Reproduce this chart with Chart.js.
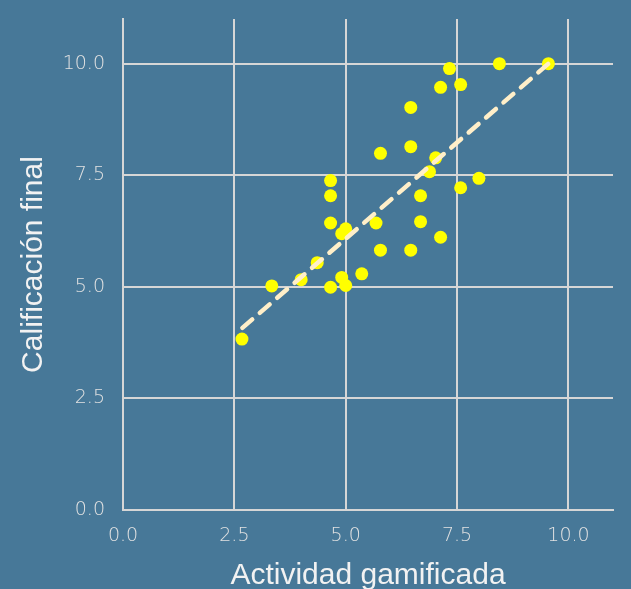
<!DOCTYPE html>
<html>
<head>
<meta charset="utf-8">
<script src="https://cdn.jsdelivr.net/npm/chart.js@4"></script>
<style>
  html, body { margin: 0; padding: 0; background: #477898; overflow: hidden; }
  canvas { display: block; }
</style>
</head>
<body>
<canvas id="c" width="631" height="589" style="width:631px;height:589px"></canvas>
<script>
const activityScores = [2.67, 3.34, 4.0, 4.36, 4.66, 4.66, 4.66, 4.66, 4.91, 5.0, 4.91, 5.0, 5.36, 5.68, 5.78, 5.78, 6.46, 6.46, 6.46, 6.68, 6.68, 6.88, 7.02, 7.13, 7.13, 7.33, 7.58, 7.58, 7.99, 8.45, 9.55];
const finalGrades    = [3.83, 5.02, 5.16, 5.54, 7.38, 7.04, 6.43, 4.99, 5.21, 5.03, 6.19, 6.30, 5.29, 6.43, 7.99, 5.82, 9.02, 8.14, 5.82, 7.04, 6.46, 7.58, 7.89, 6.11, 9.47, 9.89, 9.53, 7.22, 7.43, 10.0, 10.0];
const trendX = [2.68, 9.55];
const trendY = [4.08, 10.0];
const tickValues = [0, 2.5, 5, 7.5, 10];
const xTitle = "Actividad gamificada";
const yTitle = "Calificación final";

const gridColor = "#d6d6d6";
const tickColor = "#e2e2e2";
const titleColor = "#f2f2f2";

new Chart(document.getElementById('c'), {
  type: 'scatter',
  data: {
    datasets: [
      {
        type: 'line',
        data: trendX.map((x, i) => ({ x, y: trendY[i] })),
        borderColor: '#ffefc9',
        borderWidth: 4.5,
        borderDash: [13, 10],
        borderCapStyle: 'round',
        pointRadius: 0,
        fill: false,
        order: 0
      },
      {
        data: activityScores.map((x, i) => ({ x, y: finalGrades[i] })),
        backgroundColor: '#ffff00',
        borderColor: '#ffff00',
        borderWidth: 0,
        pointRadius: 6.5,
        order: 1
      }
    ]
  },
  options: {
    responsive: false,
    animation: false,
    devicePixelRatio: 1,
    layout: { padding: { top: 19, right: 18, left: 0, bottom: 0 } },
    plugins: { legend: { display: false }, tooltip: { enabled: false } },
    scales: {
      x: {
        type: 'linear', min: 0, max: 11,
        afterBuildTicks: s => { s.ticks = tickValues.map(v => ({ value: v })); },
        afterFit: s => { s.height = 79; s.paddingLeft = 0; s.paddingRight = 0; },
        grid: { color: gridColor, lineWidth: 2, drawTicks: false },
        border: { color: gridColor, width: 2 },
        ticks: {
          color: tickColor, padding: 15,
          font: { family: 'DejaVu Sans', size: 19, weight: 200 },
          callback: v => Number(v).toFixed(1)
        },
        title: { display: true, text: xTitle, color: titleColor, padding: { top: 0, bottom: -5 },
          font: { family: 'Liberation Sans', size: 30 } }
      },
      y: {
        type: 'linear', min: 0, max: 11,
        afterBuildTicks: s => { s.ticks = tickValues.map(v => ({ value: v })); },
        afterFit: s => { s.width = 123; s.paddingTop = 0; s.paddingBottom = 0; },
        grid: { color: gridColor, lineWidth: 2, drawTicks: false },
        border: { color: gridColor, width: 2 },
        ticks: {
          color: tickColor, padding: 18,
          font: { family: 'DejaVu Sans', size: 19, weight: 200 },
          callback: v => Number(v).toFixed(1)
        },
        title: { display: true, text: yTitle, color: titleColor, padding: { top: 16, bottom: 0 },
          font: { family: 'Liberation Sans', size: 30 } }
      }
    }
  }
});
</script>
</body>
</html>
